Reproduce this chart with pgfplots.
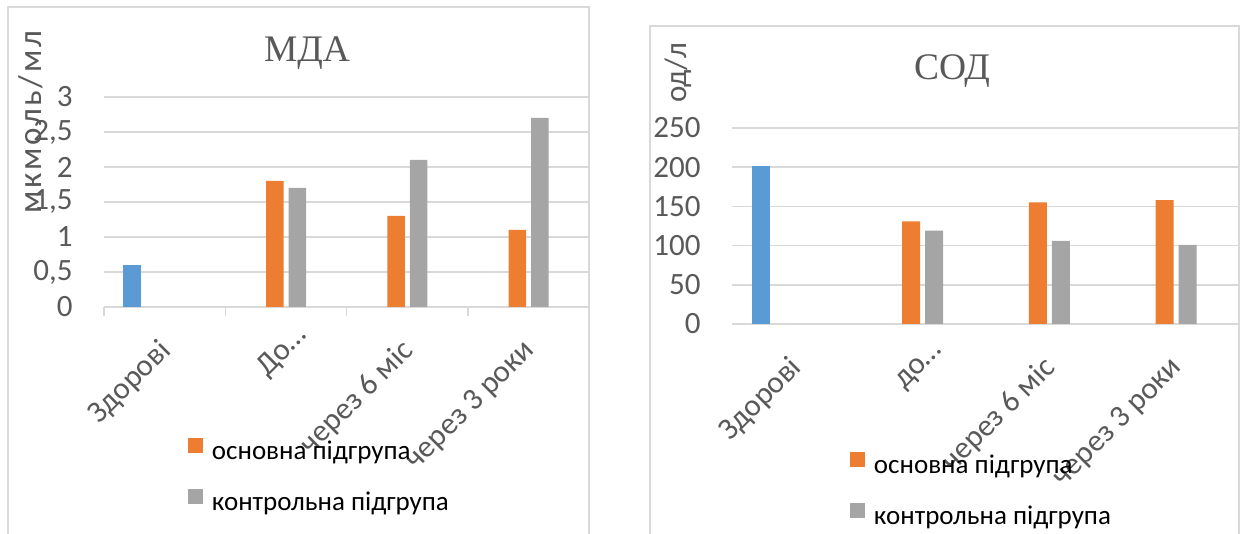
\documentclass[border=0pt]{standalone}
\usepackage{pgfplots}
\pgfplotsset{compat=1.18}
\usepackage{fontspec}
\setmainfont{Carlito}
\newfontfamily\titlefont{Liberation Serif}
\definecolor{cblue}{HTML}{5B9BD5}
\definecolor{corange}{HTML}{ED7D31}
\definecolor{cgray}{HTML}{A5A5A5}
\definecolor{gridgray}{HTML}{D9D9D9}
\definecolor{txtgray}{HTML}{595959}
\pgfplotsset{
  common/.style={
    scale only axis, anchor=south west,
    enlargelimits=false, xmin=-0.5, xmax=3.5,
    xtick={0,1,2,3},
    axis line style={draw=none},
    ymajorgrids, major grid style={draw=gridgray, line width=0.75pt},
    major tick length=0pt, minor tick length=4.5pt, tick align=outside,
    xtick pos=lower, ytick pos=left,
    tick style={draw=gridgray, line width=0.75pt},
    yticklabel style={anchor=east, inner sep=0pt, xshift=-15.5pt, font=\fontsize{15.5}{18}\selectfont, text=txtgray},
    xticklabel style={xshift=1pt, yshift=-19.5pt, rotate=45, anchor=east, inner sep=0pt, font=\fontsize{15.5}{18}\selectfont, text=txtgray},
    legend cell align=left,
    legend style={draw=none, fill=none, anchor=north west, inner sep=0pt, outer sep=0pt, row sep=13pt,
      font=\fontsize{13.5}{16}\selectfont, nodes={inner sep=0pt},
      /tikz/every odd column/.style={column sep=4.5pt}},
  },
  ttl/.style={every axis title/.style={at={(#1)}, anchor=base, inner sep=0pt, font=\fontsize{18.75}{22}\selectfont\titlefont, text=txtgray}},
  ylab/.style={every axis y label/.style={at={(#1)}, anchor=base, rotate=90, inner sep=0pt, font=\fontsize{15.5}{18}\selectfont, text=txtgray}},
}
\begin{document}
\begin{tikzpicture}[x=1pt,y=1pt]
\useasboundingbox (0,0) rectangle (621.5,267);
\draw[gridgray, line width=0.75pt] (4,-1) -- (4,263.5) -- (294.5,263.5) -- (294.5,-1);
\draw[gridgray, line width=0.75pt] (325,-1) -- (325,254) -- (619.5,254) -- (619.5,-1);

\begin{axis}[common, at={(52pt,113.5pt)}, width=242.5pt, height=105pt,
  ymin=0, ymax=3, ytick={0,0.5,1,1.5,2,2.5,3},
  yticklabels={0,{0,5},1,{1,5},2,{2,5},3},
  minor xtick={-0.5,0.5,1.5,2.5,3.5},
  xticklabels={Здорові,{До…\hspace*{-10.5pt}},через 6 міс,через 3 роки},
  ttl={0.4186,1.171}, title={МДА},
  ylab={-0.128,0.881}, ylabel={\fontsize{16.5}{19}\selectfont\addfontfeature{LetterSpace=8}мкмоль/мл},
  legend style={at={(0.173,-0.624)}},
]
\addplot[ybar, fill=cblue, draw=none, bar width=0.144, bar shift=-0.27, forget plot] coordinates {(0,0.6)};
\addplot[ybar, fill=corange, draw=none, bar width=0.144, bar shift=-0.09,
  legend image code/.code={\fill[corange] (0pt,-0.6pt) rectangle (7.5pt,6.9pt);}] coordinates {(1,1.8) (2,1.3) (3,1.1)};
\addplot[ybar, fill=cgray, draw=none, bar width=0.144, bar shift=0.095,
  legend image code/.code={\fill[cgray] (0pt,-0.6pt) rectangle (7.5pt,6.9pt);}] coordinates {(1,1.7) (2,2.1) (3,2.7)};
\legend{основна підгрупа, контрольна підгрупа}
\end{axis}

\begin{axis}[common, at={(366pt,105pt)}, width=253.5pt, height=98pt,
  ymin=0, ymax=250, ytick={0,50,100,150,200,250},
  yticklabels={0,50,100,150,200,250},
  xticklabels={Здорові,{до…\hspace*{-11pt}},через 6 міс,через 3 роки},
  ttl={0.434,1.245}, title={СОД},
  ylab={-0.0888,1.283}, ylabel={од/л},
  legend style={at={(0.2327,-0.653)}},
]
\addplot[ybar, fill=cblue, draw=none, bar width=0.142, bar shift=-0.27, forget plot] coordinates {(0,201)};
\addplot[ybar, fill=corange, draw=none, bar width=0.142, bar shift=-0.087,
  legend image code/.code={\fill[corange] (0pt,-0.6pt) rectangle (7.5pt,6.9pt);}] coordinates {(1,131) (2,155) (3,158)};
\addplot[ybar, fill=cgray, draw=none, bar width=0.142, bar shift=0.095,
  legend image code/.code={\fill[cgray] (0pt,-0.6pt) rectangle (7.5pt,6.9pt);}] coordinates {(1,119) (2,106) (3,101)};
\legend{основна підгрупа, контрольна підгрупа}
\end{axis}
\end{tikzpicture}
\end{document}
